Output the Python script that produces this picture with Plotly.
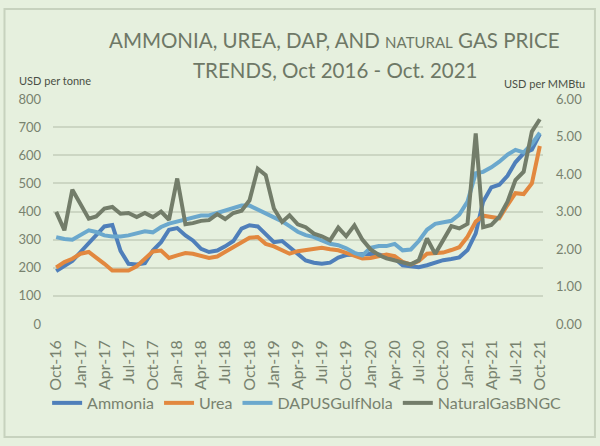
import pandas as pd
import plotly.graph_objects as go

# monthly prices, Oct 2016 - Oct 2021
months = pd.date_range('2016-10-01', periods=61, freq='MS')

ammonia = [188, 205, 224, 256, 288, 319, 347, 352, 260, 214, 212, 216, 261, 291, 335, 341,
           315, 297, 267, 256, 261, 276, 295, 339, 351, 347, 321, 291, 295, 273, 247, 226,
           218, 214, 218, 236, 245, 247, 250, 250, 247, 240, 233, 209, 204, 202, 209, 219,
           227, 231, 237, 263, 322, 435, 486, 495, 527, 575, 607, 620, 675]

urea = [201, 220, 232, 250, 256, 238, 214, 190, 190, 190, 205, 232, 258, 261, 235, 244,
        252, 250, 241, 235, 240, 256, 271, 291, 307, 309, 285, 276, 261, 250, 259, 264,
        267, 271, 266, 262, 253, 241, 233, 235, 241, 247, 241, 221, 212, 224, 250, 253,
        254, 263, 273, 310, 364, 385, 382, 376, 423, 465, 462, 500, 633]

dap = [309, 302, 300, 315, 333, 327, 315, 311, 311, 315, 321, 330, 326, 345, 357, 365,
       371, 378, 386, 386, 394, 403, 412, 421, 421, 407, 394, 382, 365, 348, 328, 316,
       309, 297, 285, 280, 269, 253, 244, 271, 277, 277, 285, 262, 265, 295, 335, 356,
       360, 367, 389, 435, 536, 541, 557, 577, 602, 619, 610, 640, 680]

# USD per MMBtu (right axis)
natgas = [2.99, 2.50, 3.58, 3.21, 2.81, 2.87, 3.08, 3.12, 2.94, 2.96, 2.85, 2.96, 2.85, 3.00,
          2.78, 3.88, 2.66, 2.69, 2.75, 2.77, 2.93, 2.80, 2.96, 3.02, 3.30, 4.14, 3.97, 3.08,
          2.72, 2.90, 2.66, 2.58, 2.41, 2.34, 2.23, 2.57, 2.34, 2.63, 2.25, 1.99, 1.84, 1.75,
          1.70, 1.65, 1.59, 1.70, 2.28, 1.87, 2.24, 2.61, 2.55, 2.67, 5.08, 2.58, 2.64, 2.86,
          3.26, 3.84, 4.06, 5.13, 5.46]

bg = '#E6F0DE'
txt = '#78826F'
font = 'Lato'

fig = go.Figure()
fig.add_trace(go.Scatter(x=months, y=ammonia, name='Ammonia', mode='lines',
                         line=dict(color='#4F7FBA', width=4)))
fig.add_trace(go.Scatter(x=months, y=urea, name='Urea', mode='lines',
                         line=dict(color='#E2883F', width=4)))
fig.add_trace(go.Scatter(x=months, y=dap, name='DAPUSGulfNola', mode='lines',
                         line=dict(color='#6BA8CD', width=4)))
fig.add_trace(go.Scatter(x=months, y=natgas, name='NaturalGasBNGC', mode='lines', yaxis='y2',
                         line=dict(color='#737D6A', width=4)))

fig.update_layout(
    width=600, height=446,
    paper_bgcolor=bg, plot_bgcolor=bg,
    margin=dict(l=53, r=57, t=99, b=122, autoexpand=False),
    font=dict(family=font, color=txt),
    showlegend=True,
    legend=dict(orientation='h', x=-0.012, xanchor='left', y=-0.351, yanchor='middle',
                font=dict(size=16, color=txt), bgcolor='rgba(0,0,0,0)',
                itemwidth=30, tracegroupgap=0),
    xaxis=dict(range=['2016-09-19', '2021-10-13'], tickformat='%b-%y', dtick='M3',
               tick0='2016-10-01', tickangle=-90, showgrid=False, zeroline=False,
               tickfont=dict(size=16, color=txt), ticks='', automargin=False,
               ticklabelstandoff=12),
    yaxis=dict(range=[0, 800], dtick=100, gridcolor='#CCD6C3', gridwidth=1.5,
               zeroline=False, tickfont=dict(size=13, color=txt), ticks='',
               automargin=False, ticklabelstandoff=11),
    yaxis2=dict(range=[0, 6], dtick=1, tickformat='.2f', overlaying='y', side='right',
                showgrid=False, zeroline=False, tickfont=dict(size=13, color=txt), ticks='',
                automargin=False, ticklabelstandoff=12),
)

# title, two lines
fig.add_annotation(text='AMMONIA, UREA, DAP, AND <span style="font-size:15px">NATURAL</span> GAS PRICE',
                   xref='paper', yref='paper', x=0.5755, y=1.262, xanchor='center', yanchor='middle',
                   showarrow=False, font=dict(size=20.5, color='#6E7866'))
fig.add_annotation(text='TRENDS, Oct 2016 - Oct. 2021',
                   xref='paper', yref='paper', x=0.5755, y=1.129, xanchor='center', yanchor='middle',
                   showarrow=False, font=dict(size=20.5, color='#6E7866'))
fig.add_annotation(text='USD per tonne', xref='paper', yref='paper', x=-0.0735, y=1.084,
                   xanchor='left', yanchor='middle', showarrow=False,
                   font=dict(size=11, color='#4A4F45'))
fig.add_annotation(text='USD per MMBtu', xref='paper', yref='paper', x=1.0898, y=1.067,
                   xanchor='right', yanchor='middle', showarrow=False,
                   font=dict(size=11, color='#4A4F45'))

# outer frame
fig.add_shape(type='rect', xref='paper', yref='paper', x0=-0.099, x1=1.106, y0=-0.502, y1=1.4,
              line=dict(color='#C7D2BE', width=2), layer='below')

# page body has a default margin, drop it so the figure sits at 0,0
fig.write_html("out.html", config={'displayModeBar': False},
               post_script="document.body.style.margin='0';"
               "document.body.style.background='" + bg + "';")
